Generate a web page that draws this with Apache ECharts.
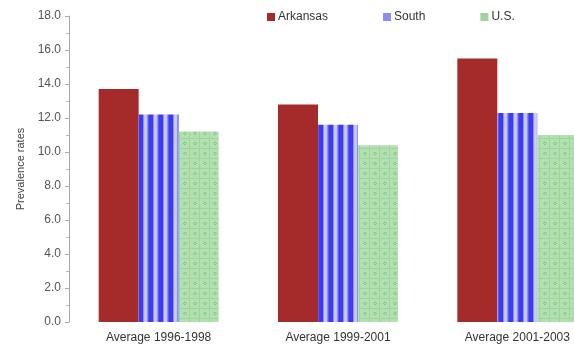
<!DOCTYPE html>
<html>
<head>
<meta charset="utf-8">
<script src="https://cdn.jsdelivr.net/npm/echarts@6/dist/echarts.min.js"></script>
<style>
  html, body { margin: 0; padding: 0; background: #fff; }
  #chart { width: 574px; height: 347px; }
</style>
</head>
<body>
<div id="chart"></div>
<script>
// Prevalence rates by period
var categories = ['Average 1996-1998', 'Average 1999-2001', 'Average 2001-2003'];
var arkansas = [13.7, 12.8, 15.5];
var south = [12.2, 11.6, 12.3];
var us = [11.2, 10.4, 11.0];
var seriesNames = ['Arkansas', 'South', 'U.S.'];

// Vertical stripe fill for the South bars
function stripePattern() {
  var c = document.createElement('canvas');
  c.width = 10; c.height = 4;
  var g = c.getContext('2d');
  var cols = ['#3c3cef', '#3c3cef', '#3c3cef', '#8e8ef5', '#c4c4fa', '#cacafb', '#c4c4fa', '#8e8ef5', '#5c5cf1', '#3c3cef'];
  for (var i = 0; i < cols.length; i++) {
    g.fillStyle = cols[i];
    g.fillRect(i, 0, 1, 4);
  }
  return c;
}

// Light green fill with a small dotted grid for the U.S. bars
function dotPattern() {
  var c = document.createElement('canvas');
  c.width = 10; c.height = 10;
  var g = c.getContext('2d');
  g.fillStyle = '#b3e0b0';
  g.fillRect(0, 0, 10, 10);
  g.fillStyle = '#86c584';
  g.fillRect(4, 2, 2, 1);
  g.fillRect(4, 4, 2, 1);
  g.fillRect(3, 3, 1, 1);
  g.fillRect(6, 3, 1, 1);
  g.fillStyle = '#9fd49c';
  g.fillRect(0, 8, 10, 1);
  g.fillRect(9, 0, 1, 10);
  return c;
}

var chart = echarts.init(document.getElementById('chart'), null, { renderer: 'canvas' });
var font = 'Liberation Sans, Arial, sans-serif';

chart.setOption({
  animation: false,
  textStyle: { fontFamily: font },
  legend: {
    top: 6,
    left: 262,
    itemWidth: 8,
    itemHeight: 8,
    itemGap: 55,
    icon: 'rect',
    textStyle: { fontFamily: font, fontSize: 12, color: '#333', padding: [0, 0, 0, -2] },
    data: [
      { name: seriesNames[0], itemStyle: { color: '#a52a2a' } },
      { name: seriesNames[1], itemStyle: { color: '#8c8cf4' } },
      { name: seriesNames[2], itemStyle: { color: '#9fd49c' } }
    ]
  },
  // the plot area runs past the right edge, so the last group is cut off
  grid: { left: 69, right: -33, top: 16, bottom: 25, containLabel: false, outerBoundsMode: 'none' },
  xAxis: {
    type: 'category',
    data: categories,
    axisLine: { show: false },
    axisTick: { show: false },
    axisLabel: { fontFamily: font, fontSize: 12, color: '#333', margin: 10, hideOverlap: false }
  },
  yAxis: {
    type: 'value',
    min: 0,
    max: 18,
    interval: 2,
    name: 'Prevalence rates',
    nameLocation: 'middle',
    nameGap: 42,
    nameTextStyle: { fontFamily: font, fontSize: 11, color: '#444' },
    splitLine: { show: false },
    axisLine: { show: true, lineStyle: { color: '#aaa' } },
    axisTick: { show: true, length: 4, lineStyle: { color: '#aaa' } },
    minorTick: { show: true, splitNumber: 2, length: 3, lineStyle: { color: '#bbb' } },
    axisLabel: {
      fontFamily: font, fontSize: 12, color: '#555', margin: 8,
      formatter: function (v) { return v.toFixed(1); }
    }
  },
  series: [
    {
      name: seriesNames[0], type: 'bar', data: arkansas,
      barGap: '0%', barWidth: 40,
      itemStyle: { color: '#a52a2a' }
    },
    {
      name: seriesNames[1], type: 'bar', data: south, barWidth: 40,
      itemStyle: { color: { image: stripePattern(), repeat: 'repeat' } }
    },
    {
      name: seriesNames[2], type: 'bar', data: us, barWidth: 40,
      itemStyle: { color: { image: dotPattern(), repeat: 'repeat' } }
    }
  ]
});
</script>
</body>
</html>
